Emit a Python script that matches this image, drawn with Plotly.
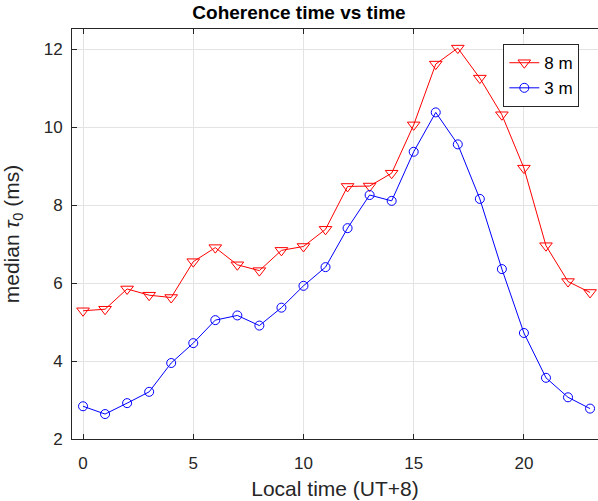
import plotly.graph_objects as go

hours = list(range(24))
tau_8m = [5.29, 5.33, 5.85, 5.69, 5.63, 6.55, 6.91, 6.47, 6.32, 6.84, 6.94, 7.38,
          8.48, 8.49, 8.82, 10.06, 11.62, 12.03, 11.26, 10.32, 8.95, 6.96, 6.04, 5.76]
tau_3m = [2.84, 2.64, 2.92, 3.21, 3.95, 4.46, 5.05, 5.17, 4.91, 5.37, 5.93, 6.41,
          7.41, 8.26, 8.11, 9.37, 10.38, 9.56, 8.16, 6.36, 4.72, 3.57, 3.07, 2.78]
x_ticks = [0, 5, 10, 15, 20]
y_ticks = [2, 4, 6, 8, 10, 12]

FONT = "Liberation Sans, Arial, sans-serif"
AX = "#262626"

fig = go.Figure()
fig.add_trace(go.Scatter(
    x=hours, y=tau_8m, mode="lines+markers", name="8 m",
    line=dict(color="#ff0000", width=1),
    marker=dict(symbol="triangle-down-open", size=11, color="#ff0000", line=dict(width=1)),
))
fig.add_trace(go.Scatter(
    x=hours, y=tau_3m, mode="lines+markers", name="3 m",
    line=dict(color="#0000ff", width=1),
    marker=dict(symbol="circle-open", size=9, color="#0000ff", line=dict(width=1)),
))

fig.update_layout(
    width=598, height=501,
    margin=dict(l=72, r=0, t=29, b=62),
    paper_bgcolor="white", plot_bgcolor="white",
    font=dict(family=FONT, size=17, color=AX),
    title=dict(text="<b>Coherence time vs time</b>", x=0.5, xanchor="center",
               y=0.976, yanchor="middle", font=dict(family=FONT, size=19, color="black")),
    legend=dict(x=0.82, y=0.963, xanchor="left", yanchor="top",
                bordercolor=AX, borderwidth=1, bgcolor="white",
                font=dict(family=FONT, size=17, color="black"),
                itemwidth=30, tracegroupgap=0),
    showlegend=True,
)
fig.update_xaxes(
    range=[-0.5, 23.36], tickvals=x_ticks, ticks="inside", ticklen=5, tickcolor=AX,
    showline=True, linecolor=AX, linewidth=1, mirror="ticks",
    showgrid=True, gridcolor="#e3e3e3", gridwidth=1, zeroline=False,
    ticklabelstandoff=9,
    title=dict(text="Local time (UT+8)", font=dict(family=FONT, size=21, color=AX), standoff=8),
    tickfont=dict(family=FONT, size=17, color=AX),
)
fig.update_yaxes(
    range=[2, 12.52], tickvals=y_ticks, ticks="inside", ticklen=5, tickcolor=AX,
    showline=True, linecolor=AX, linewidth=1, mirror=False,
    showgrid=True, gridcolor="#e3e3e3", gridwidth=1, zeroline=False,
    ticklabelstandoff=5,
    title=dict(text="median <i>τ</i><sub>0</sub> (ms)", font=dict(family=FONT, size=21, color=AX), standoff=18),
    tickfont=dict(family=FONT, size=17, color=AX),
)

fig.write_html("out.html", config={"displayModeBar": False},
               post_script="document.body.style.margin='0';window.dispatchEvent(new Event('resize'));")
